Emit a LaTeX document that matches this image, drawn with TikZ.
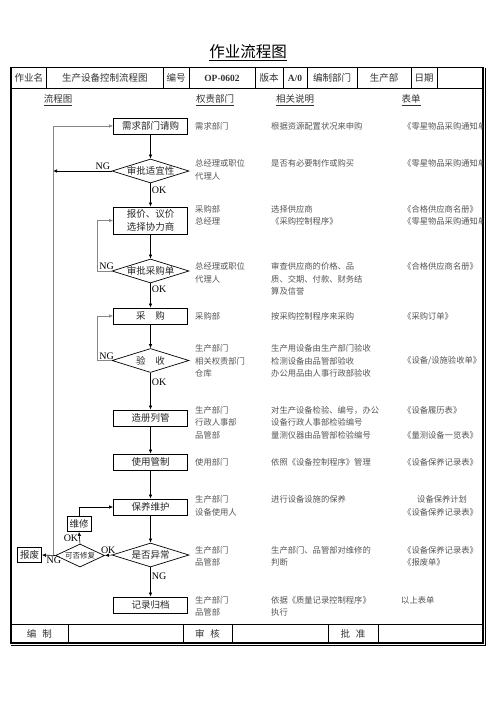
\documentclass[tikz,border=0pt]{standalone}
\usepackage{fontspec}
\setmainfont{Liberation Serif}
\newfontfamily\cjk{Noto Sans CJK SC}
\usepackage{tikz}
\usetikzlibrary{positioning,arrows.meta,calc,shapes.geometric}
\definecolor{txtgray}{RGB}{85,85,85}
\definecolor{loopgray}{RGB}{135,135,135}
\tikzset{
  blk/.style  ={draw=black, line width=0.8pt, minimum width=74pt, minimum height=16pt,
                inner sep=2pt, align=center, text=black!85,
                font=\cjk\fontsize{9.5}{12.5}\selectfont},
  dia/.style  ={draw=black, line width=0.7pt, diamond, shape aspect=3.2, inner sep=0pt,
                minimum width=77pt, minimum height=24pt, text=black!85,
                font=\cjk\fontsize{9.5}{12}\selectfont},
  sdia/.style ={dia, shape aspect=2.1, minimum width=49pt, minimum height=23pt,
                font=\cjk\fontsize{7.5}{9}\selectfont},
  sblk/.style ={draw=black, line width=0.8pt, minimum height=15pt, inner sep=2.5pt,
                text=black!85, font=\cjk\fontsize{9.5}{12}\selectfont},
  ar/.style   ={-{Latex[length=4pt,width=3.5pt]}, draw=black, line width=0.6pt},
  lar/.style  ={-{Latex[length=4pt,width=3.5pt]}, draw=loopgray, line width=0.6pt},
  lbl/.style  ={inner sep=1pt, font=\fontsize{10}{12}\selectfont},
  col/.style  ={anchor=west, inner sep=0pt, text=txtgray, font=\cjk\fontsize{8.3}{10}\selectfont},
  hcell/.style={inner sep=0pt, text=black!80, font=\cjk\fontsize{9.5}{12}\selectfont},
  sec/.style  ={inner sep=0pt, text=black!80, font=\cjk\fontsize{9.5}{12}\selectfont},
  ttl/.style  ={inner sep=0pt, font=\cjk\fontsize{15.5}{18}\selectfont},
}

\begin{document}
\begin{tikzpicture}[x=1pt,y=-1pt]
\useasboundingbox (0,0) rectangle (496,702);
% title
\node[ttl] (title) at (248,52.5) {\underline{作业流程图}};

% frame
\draw[line width=1.1pt] (11,67.5) rectangle (483,643);
\draw[line width=0.7pt] (485.5,67.5) -- (485.5,645.5) -- (11,645.5);
\draw[line width=0.9pt] (11,88) -- (483,88);
\draw[line width=0.9pt] (11,624) -- (483,624);

% header row
\foreach \a/\b/\t [count=\i] in {11/46.7/作业名, 46.7/163/生产设备控制流程图, 163/189/编号,
    189/255/{\rmfamily\bfseries OP-0602}, 255/283/版本, 283/307/{\rmfamily\bfseries A/0},
    307/357/编制部门, 357/411/生产部, 411/437/日期, 437/483/{}}{
  \draw[line width=0.8pt] (\b,67.5) -- (\b,88);
  \node[hcell] (hd\i) at ({(\a+\b)/2},78) {\t};
}

% footer row
\foreach \a/\b/\t [count=\i] in {11/68/编\hspace{6pt}制, 68/183/{}, 183/232/审\hspace{6pt}核,
    232/328/{}, 328/378/批\hspace{6pt}准, 378/483/{}}{
  \draw[line width=0.8pt] (\b,624) -- (\b,643);
  \node[hcell] (ft\i) at ({(\a+\b)/2},633.5) {\t};
}

% column titles
\node[sec] (lct) at (58,100) {\underline{流程图}};
\node[sec] (qzbm) at (215,100) {\underline{权责部门}};
\node[sec] (xgsm) at (295,100) {\underline{相关说明}};
\node[sec] (bd) at (411,100) {\underline{表单}};

% responsible departments
\foreach \y/\t [count=\i] in {126/需求部门, 163/总经理或职位, 176/代理人, 209/采购部, 221/总经理,
    266/总经理或职位, 279/代理人, 316/采购部, 348/生产部门, 361/相关权责部门, 373/仓库,
    410/生产部门, 422/行政人事部, 435/品管部, 462/使用部门, 499/生产部门, 512/设备使用人,
    550/生产部门, 562/品管部, 600/生产部门, 612/品管部}
  \node[col] (qz\i) at (195,\y) {\t};

% notes
\foreach \y/\t [count=\i] in {126/根据资源配置状况来申购, 163/是否有必要制作或购买, 209/选择供应商,
    221/《采购控制程序》, 266/审查供应商的价格、品, 279/质、交期、付款、财务结, 291/算及信誉,
    316/按采购控制程序来采购, 348/生产用设备由生产部门验收, 361/检测设备由品管部验收,
    373/办公用品由人事行政部验收, 410/对生产设备检验、编号，办公, 422/设备行政人事部检验编号,
    435/量测仪器由品管部检验编号, 462/依照《设备控制程序》管理, 499/进行设备设施的保养,
    550/生产部门、品管部对维修的, 562/判断, 600/依据《质量记录控制程序》, 612/执行}
  \node[col] (sm\i) at (271,\y) {\t};

% forms
\begin{scope}
\clip (395,90) rectangle (482.4,622);
\foreach \y/\t [count=\i] in {126/《零星物品采购通知单》, 163/《零星物品采购通知单》,
    209/《合格供应商名册》, 221/《零星物品采购通知单》, 266/《合格供应商名册》, 316/《采购订单》,
    361/{《设备/设施验收单》}, 410/《设备履历表》, 435/《量测设备一览表》, 462/《设备保养记录表》,
    512/《设备保养记录表》, 550/《设备保养记录表》, 562/《报废单》}
  \node[col] (bd\i) at (403,\y) {\t};
\node[col] (bdjh) at (417,499) {设备保养计划};
\node[col] (bdys) at (401,600) {以上表单};
\end{scope}

% flow chart
\node[blk] (xq) at (150.5,126) {需求部门请购};
\node[dia] (spsy) at (150.5,171) {审批适宜性};
\node[blk, minimum height=27pt] (bj) at (150.5,220.5) {报价、议价\\选择协力商};
\node[dia] (spcg) at (150.5,271) {审批采购单};
\node[blk] (cg) at (150.5,316) {采\hspace{10pt}购};
\node[dia] (ys) at (150.5,360.5) {验\hspace{10pt}收};
\node[blk] (zc) at (150.5,418) {造册列管};
\node[blk] (sy) at (150.5,462) {使用管制};
\node[blk] (by) at (150.5,507) {保养维护};
\node[dia] (sfyc) at (150.5,555) {是否异常};
\node[sdia] (kfxf) at (80,555.5) {可否修复};
\node[sblk] (wx) at (79,524) {维修};
\node[sblk] (bf) at (29.5,555) {报废};
\node[blk] (jl) at (150.5,605) {记录归档};
\coordinate (loop) at (53,126);

\draw[ar] (xq) -- (spsy);
\draw[ar] (spsy) -- (bj) node[lbl, pos=0.3, right] {OK};
\draw[ar] (bj) -- (spcg);
\draw[ar] (spcg) -- (cg) node[lbl, pos=0.25, right] {OK};
\draw[ar] (cg) -- (ys);
\draw[ar] (ys) -- (zc) node[lbl, pos=0.25, right] {OK};
\draw[ar] (zc) -- (sy);
\draw[ar] (sy) -- (by);
\draw[ar] (by) -- (sfyc);
\draw[ar] (sfyc) -- (jl) node[lbl, pos=0.3, right] {NG};

% NG loops
\draw[ar] (spsy.west) -- (spsy.west -| loop) node[lbl, pos=0.15, above] {NG};
\draw[lar] (loop |- bf.east) -- (loop) -- (xq.west);
\draw[lar] (spcg.west) -- ++(-14,0) |- (bj.west);
\node[lbl, above] (ng2) at ([xshift=-5pt]spcg.west) {NG};
\draw[lar] (ys.west) -- ++(-14,0) |- (cg.west);
\node[lbl, above] (ng3) at ([xshift=-5pt]ys.west) {NG};

% repair branch
\draw[ar] (sfyc.west) -- (kfxf.east) node[lbl, midway, above] {OK};
\draw[ar] (kfxf.north) -- (wx.south) node[lbl, midway, left] {OK};
\draw[ar] (wx.north) |- (by.west);
\draw[ar] (kfxf.west) -- (bf.east) node[lbl, pos=0.1, below] {NG};
\end{tikzpicture}
\end{document}
